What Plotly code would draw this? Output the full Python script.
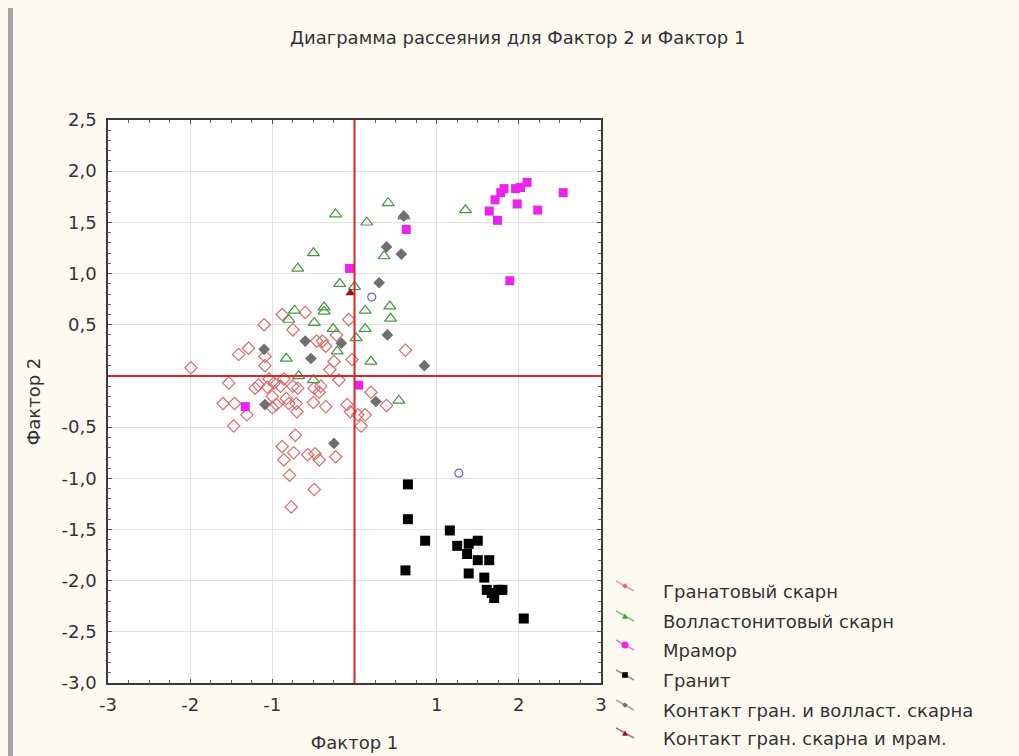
import plotly.graph_objects as go

# ---- data: factor scores per rock group ----
garnet_x = [-1.99, -1.53, -1.60, -1.46, -1.31, -1.47, -1.41, -1.29, -1.10, -1.09,
            -1.09, -0.88, -0.60, -0.75, -0.46, -0.39, -0.35, -0.07, -0.22, -0.25,
            -0.30, -0.03, 0.62, -1.04, -1.21, -1.17, -1.06, -0.98, -0.86, -0.90,
            -0.75, -0.69, -1.00, -0.83, -1.00, -0.95, -0.80, -0.71, -0.70, -0.50,
            -0.49, -0.41, -0.43, -0.35, -0.19, -0.09, -0.05, 0.04, 0.13, 0.08,
            0.20, 0.39, -0.72, -0.88, -0.74, -0.86, -0.57, -0.48, -0.43, -0.23,
            -0.79, -0.49, -0.77]
garnet_y = [0.08, -0.07, -0.27, -0.27, -0.38, -0.49, 0.21, 0.27, 0.50, 0.19,
            0.10, 0.60, 0.62, 0.45, 0.34, 0.34, 0.29, 0.55, 0.40, 0.14,
            0.06, 0.16, 0.25, -0.03, -0.12, -0.09, -0.11, -0.07, -0.03, -0.10,
            -0.10, -0.12, -0.20, -0.22, -0.31, -0.28, -0.27, -0.27, -0.35, -0.26,
            -0.12, -0.10, -0.16, -0.30, -0.04, -0.28, -0.35, -0.38, -0.38, -0.49,
            -0.16, -0.29, -0.58, -0.69, -0.75, -0.82, -0.77, -0.76, -0.82, -0.79,
            -0.97, -1.11, -1.28]

wollast_x = [0.41, -0.23, 0.15, 0.60, 1.35, -0.50, -0.69, 0.36, -0.18, 0.00,
             -0.73, -0.37, -0.80, -0.37, -0.49, 0.13, 0.43, 0.44, -0.26, 0.13,
             0.02, -0.21, -0.83, 0.20, -0.68, -0.50, 0.54]
wollast_y = [1.69, 1.58, 1.50, 1.56, 1.62, 1.20, 1.05, 1.17, 0.90, 0.87,
             0.64, 0.67, 0.55, 0.63, 0.52, 0.64, 0.68, 0.56, 0.46, 0.46,
             0.37, 0.24, 0.17, 0.14, 0.00, -0.04, -0.24]

marble_x = [1.64, 1.74, 1.71, 1.78, 1.82, 1.96, 2.02, 2.10, 1.98, 2.23,
            2.54, 1.89, 0.63, -0.06, 0.05, -1.33]
marble_y = [1.61, 1.52, 1.72, 1.79, 1.83, 1.83, 1.84, 1.89, 1.68, 1.62,
            1.79, 0.93, 1.43, 1.05, -0.09, -0.30]

granite_x = [0.65, 0.65, 0.86, 0.62, 1.16, 1.25, 1.39, 1.50, 1.37, 1.50,
             1.64, 1.39, 1.58, 1.61, 1.75, 1.80, 1.70, 1.67, 2.06]
granite_y = [-1.06, -1.40, -1.61, -1.90, -1.51, -1.66, -1.64, -1.61, -1.74, -1.80,
             -1.80, -1.93, -1.97, -2.09, -2.09, -2.09, -2.17, -2.12, -2.37]

contact_gw_x = [0.30, 0.40, 0.85, -0.60, -0.16, -1.10, -0.53, -1.09, 0.26, -0.25,
                0.39, 0.57, 0.60]
contact_gw_y = [0.91, 0.40, 0.10, 0.34, 0.32, 0.26, 0.17, -0.28, -0.25, -0.66,
                1.26, 1.19, 1.56]

contact_gm_x = [-0.05]
contact_gm_y = [0.81]

other_x = [0.21, 1.27]
other_y = [0.77, -0.95]

series_names = ["Гранатовый скарн", "Волластонитовый скарн", "Мрамор", "Гранит",
                "Контакт гран. и волласт. скарна", "Контакт гран. скарна и мрам."]

x_ticks = [-3, -2, -1, 1, 2, 3]
y_ticks = [2.5, 2.0, 1.5, 1.0, 0.5, -0.5, -1.0, -1.5, -2.0, -2.5, -3.0]

# ---- styling ----
FONT = "DejaVu Sans, Liberation Sans, Arial, sans-serif"
FS = 18
BG = "#fdfaf0"
TXT = "#333333"
colors = ["#e06a6a", "#3f9a3f", "#ee22ee", "#000000", "#6f6f6f", "#8b1a1a"]

fig = go.Figure()


def add(xs, ys, name, symbol, size, color, filled):
    if filled:
        m = dict(symbol=symbol, size=size, color=color, line=dict(width=0))
    else:
        m = dict(symbol=symbol, size=size, color=color, line=dict(width=1.2, color=color))
    fig.add_trace(go.Scatter(x=xs, y=ys, mode="markers", name=name, marker=m,
                             showlegend=False))


add(garnet_x, garnet_y, series_names[0], "diamond-open", 9.5, colors[0], False)
add(wollast_x, wollast_y, series_names[1], "triangle-up-open", 10.5, colors[1], False)
add(contact_gw_x, contact_gw_y, series_names[4], "diamond", 9, colors[4], True)
add(other_x, other_y, "", "circle-open", 8, "#6464c8", False)
add(marble_x, marble_y, series_names[2], "square", 9, colors[2], True)
add(granite_x, granite_y, series_names[3], "square", 10, colors[3], True)
add(contact_gm_x, contact_gm_y, series_names[5], "triangle-up", 9, colors[5], True)

# ---- pixel geometry of the plotting frame ----
W, H = 1019, 756
L, R, T, B = 108, 601, 120, 683


def px(x):
    return (x - L) / (R - L)


def py(y):
    return (B - y) / (B - T)


shapes = []
# zero reference lines
shapes.append(dict(type="line", xref="x", yref="paper", x0=0, x1=0, y0=0, y1=1,
                   line=dict(color="#e02424", width=2), layer="above"))
shapes.append(dict(type="line", xref="paper", yref="y", x0=0, x1=1, y0=0, y1=0,
                   line=dict(color="#e02424", width=2), layer="above"))
# grey strip at the left edge of the window
shapes.append(dict(type="rect", xref="paper", yref="paper",
                   x0=px(8), x1=px(13), y0=py(8), y1=py(756),
                   line=dict(width=0), fillcolor="#a6a6a6"))

# ---- custom legend ----
annotations = []
legend_text_y = [591, 621, 650, 680, 710, 738]
marker_kind = ["diamond", "triangle", "circle", "square", "diamond", "triangle"]
for i, name in enumerate(series_names):
    ty = legend_text_y[i]
    cx, cy = 625, ty - 5
    shapes.append(dict(type="line", xref="paper", yref="paper",
                       x0=px(cx - 9), y0=py(cy - 5), x1=px(cx + 9), y1=py(cy + 5),
                       line=dict(color=colors[i] if i != 3 else "#555555", width=1.5),
                       opacity=0.6))
    r = 2.8
    k = marker_kind[i]
    if k == "diamond":
        path = (f"M {px(cx)} {py(cy - r)} L {px(cx + r)} {py(cy)} "
                f"L {px(cx)} {py(cy + r)} L {px(cx - r)} {py(cy)} Z")
    elif k == "triangle":
        path = (f"M {px(cx)} {py(cy - r)} L {px(cx + r)} {py(cy + r)} "
                f"L {px(cx - r)} {py(cy + r)} Z")
    elif k == "square":
        path = (f"M {px(cx - r)} {py(cy - r)} L {px(cx + r)} {py(cy - r)} "
                f"L {px(cx + r)} {py(cy + r)} L {px(cx - r)} {py(cy + r)} Z")
    else:
        path = None
    if path:
        shapes.append(dict(type="path", xref="paper", yref="paper", path=path,
                           fillcolor=colors[i], line=dict(width=0)))
    else:
        shapes.append(dict(type="circle", xref="paper", yref="paper",
                           x0=px(cx - 3.5), x1=px(cx + 3.5), y0=py(cy + 3.5), y1=py(cy - 3.5),
                           fillcolor=colors[i], line=dict(width=0)))
    annotations.append(dict(text=name, xref="paper", yref="paper", x=px(661), y=py(ty),
                            xanchor="left", yanchor="middle", showarrow=False,
                            font=dict(family=FONT, size=FS, color=TXT)))

axis_common = dict(showline=True, linecolor="#3a3a3a", linewidth=1.5, mirror="ticks",
                   ticks="inside", ticklen=4, tickcolor="#555555", automargin=False,
                   showgrid=True, gridcolor="#e2e2e2", gridwidth=1, zeroline=False,
                   tickfont=dict(family=FONT, size=FS, color=TXT))

fig.update_layout(
    width=W, height=H,
    margin=dict(l=L, r=W - R, t=T, b=H - B, autoexpand=False),
    paper_bgcolor=BG, plot_bgcolor="white",
    showlegend=False,
    title=dict(text="Диаграмма рассеяния для Фактор 2 и Фактор 1",
               x=0.508, xref="container", xanchor="center",
               y=1 - 38 / H, yanchor="middle",
               font=dict(family=FONT, size=FS, color=TXT)),
    xaxis=dict(range=[-3, 3], tickvals=x_ticks, ticktext=[str(v) for v in x_ticks],
               ticklabelstandoff=5,
               minor=dict(dtick=0.25, ticks="inside", ticklen=3, tickcolor="#666666",
                          showgrid=False),
               title=dict(text="Фактор 1", standoff=22,
                          font=dict(family=FONT, size=FS, color=TXT)),
               **axis_common),
    yaxis=dict(range=[-3, 2.5], tickvals=y_ticks,
               ticktext=[f"{v:.1f}".replace(".", ",") for v in y_ticks],
               ticklabelstandoff=6,
               minor=dict(dtick=0.1, ticks="inside", ticklen=3, tickcolor="#666666",
                          showgrid=False),
               title=dict(text="Фактор 2", standoff=16,
                          font=dict(family=FONT, size=FS, color=TXT)),
               **axis_common),
    shapes=shapes,
    annotations=annotations,
)

fig.write_html("out.html")
